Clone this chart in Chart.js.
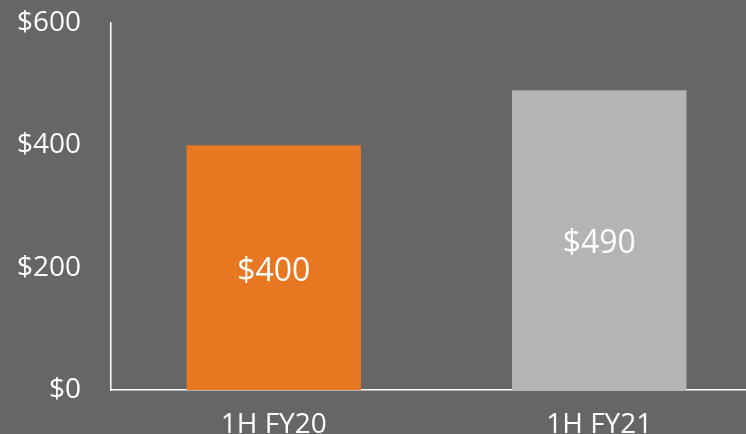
<!DOCTYPE html>
<html>
<head>
<meta charset="utf-8">
<script src="https://cdn.jsdelivr.net/npm/chart.js@4/dist/chart.umd.min.js"></script>
<style>
  html, body { margin:0; padding:0; background:#666666; overflow:hidden; width:746px; height:434px; }
  #wrap { position:absolute; left:0; top:0; width:762px; height:470px; }
</style>
</head>
<body>
<div id="wrap"><canvas id="c" width="762" height="470"></canvas></div>
<script>
const categories = ["1H FY20", "1H FY21"];
const values = [400, 490];
const barColors = ["#e87722", "#b4b4b4"];
const yTicks = [0, 200, 400, 600];

const centerLabels = {
  id: 'centerLabels',
  afterDatasetsDraw(chart) {
    const ctx = chart.ctx;
    const meta = chart.getDatasetMeta(0);
    ctx.save();
    ctx.fillStyle = '#ffffff';
    ctx.font = '32px "Open Sans"';
    ctx.textAlign = 'center';
    ctx.textBaseline = 'middle';
    meta.data.forEach((el, i) => {
      const y = (el.y + el.base) / 2 + 4;
      ctx.fillText('$' + values[i], el.x, y);
    });
    ctx.restore();
  }
};

new Chart(document.getElementById('c'), {
  type: 'bar',
  data: {
    labels: categories,
    datasets: [{
      data: values,
      backgroundColor: barColors,
      borderWidth: 0,
      categoryPercentage: 1.0,
      barPercentage: 0.536
    }]
  },
  options: {
    responsive: false,
    animation: false,
    devicePixelRatio: 1,
    layout: { padding: { top: 23, right: 0, left: 0, bottom: 0 } },
    plugins: { legend: { display: false }, tooltip: { enabled: false } },
    scales: {
      x: {
        grid: { display: false, drawTicks: false },
        border: { display: true, color: '#ffffff', width: 1.5 },
        ticks: { color: '#ffffff', font: { family: 'Open Sans', size: 28 }, padding: 18 },
        afterFit(scale) { scale.height = 80; }
      },
      y: {
        min: 0, max: 600,
        afterBuildTicks(scale) { scale.ticks = yTicks.map(v => ({ value: v })); },
        grid: { display: false, drawTicks: false },
        border: { display: true, color: '#ffffff', width: 1.5 },
        ticks: { color: '#ffffff', font: { family: 'Open Sans', size: 28 }, padding: 30,
                 callback: v => '$' + v },
        afterFit(scale) { scale.width = 111; scale.paddingTop = 0; scale.paddingBottom = 0; }
      }
    }
  },
  plugins: [centerLabels]
});
</script>
</body>
</html>
